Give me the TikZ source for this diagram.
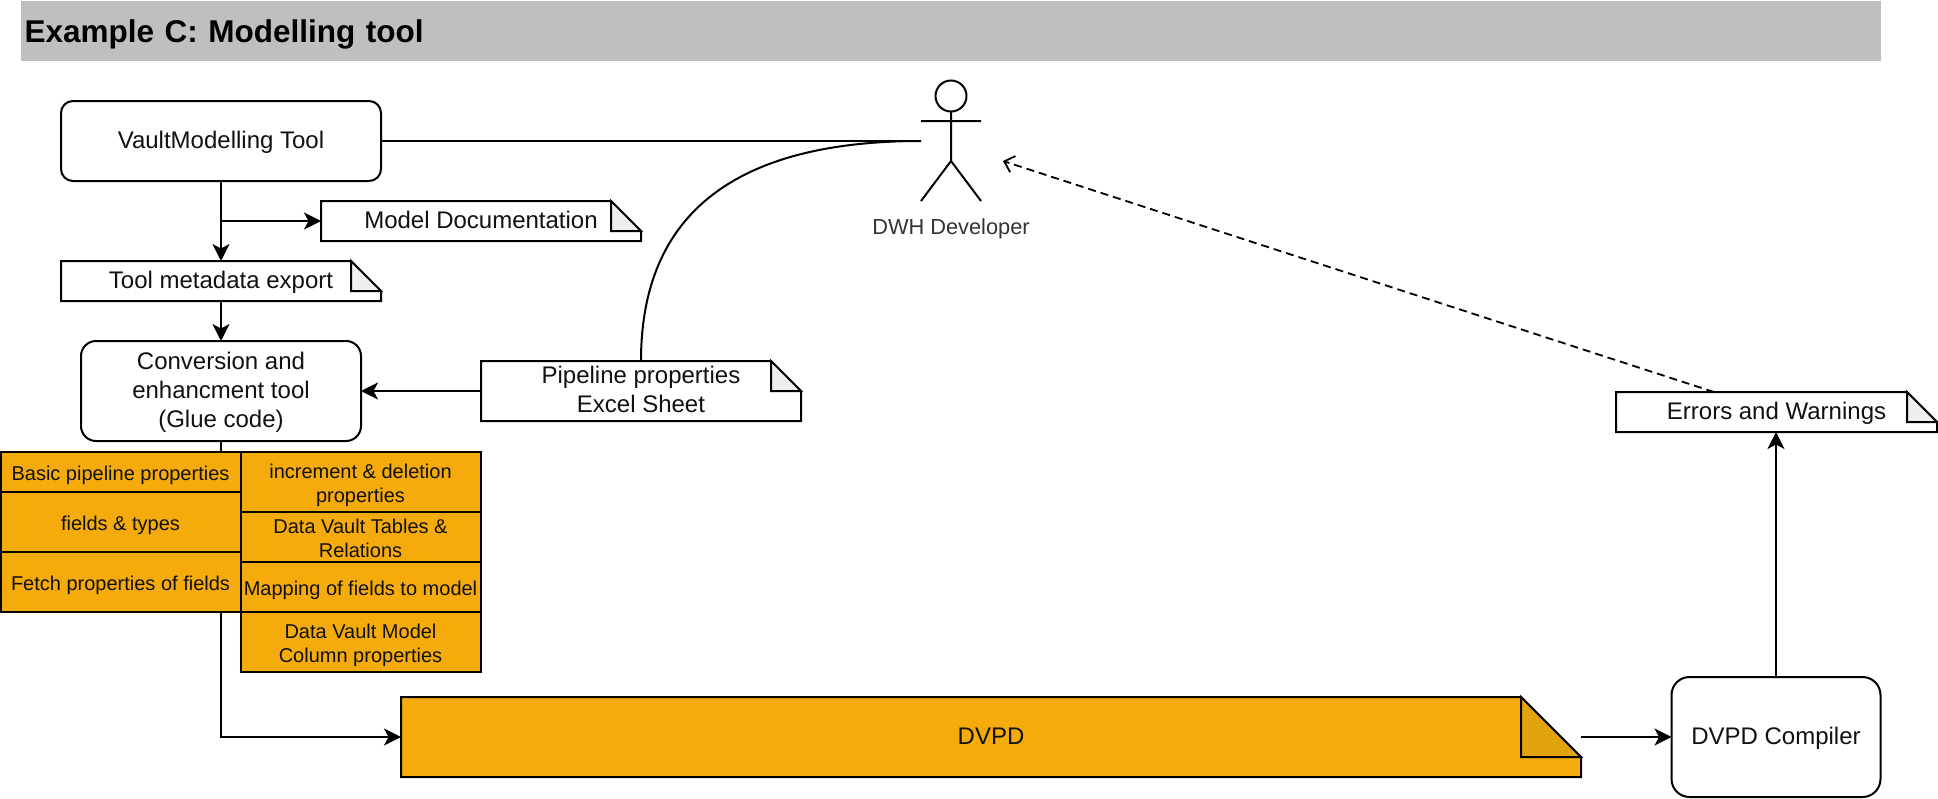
\documentclass[tikz,border=0pt]{standalone}
\usepackage{fontspec}
\setmainfont{Liberation Sans}
\usetikzlibrary{arrows.meta}
\definecolor{orangefill}{HTML}{F5AB0B}
\definecolor{orangefold}{HTML}{E2A40E}
\definecolor{notefold}{HTML}{EFEFEF}
\definecolor{barfill}{HTML}{BFBFBF}
\definecolor{inktext}{HTML}{111111}
\definecolor{actortext}{HTML}{333333}
\tikzset{
  ln/.style={line width=2pt,draw=black},
  conn/.style={ln,-{Stealth[length=17pt,width=17pt,inset=4.5pt]}},
  plain/.style={ln},
  dashconn/.style={line width=1.8pt,draw=black,dash pattern=on 8pt off 5pt,-{Straight Barb[length=9pt,width=17pt,line width=1.8pt]}},
  mainfont/.style={font=\fontsize{24}{29}\selectfont,text=inktext},
  toolbox/.style={ln,fill=white,rounded corners=#1,inner sep=0pt,outer sep=0pt,mainfont},
  notetext/.style={inner sep=0pt,outer sep=0pt,mainfont},
  cell/.style={ln,fill=orangefill,inner sep=0pt,outer sep=0pt,font=\fontsize{20}{24}\selectfont,text=inktext},
}
\newcommand\tx[1]{\raisebox{-1.3pt}[\height][\depth]{\begin{tabular}{@{}c@{}}#1\end{tabular}}}
\newcommand\cx[1]{\raisebox{-3.2pt}[\height][\depth]{\begin{tabular}{@{}c@{}}#1\end{tabular}}}
% name, x1, y1, x2, y2, fold, fill, fold fill, text
\newcommand\notenode[9]{%
  \path[ln,fill=#7] (#2,#3) -- (#4-#6,#3) -- (#4,#3+#6) -- (#4,#5) -- (#2,#5) -- cycle;
  \path[ln,fill=#8,line join=miter] (#4-#6,#3) -- (#4,#3+#6) -- (#4-#6,#3+#6) -- cycle;
  \node[notetext,minimum width={(#4-#2)*1pt},minimum height={(#5-#3)*1pt}] (#1) at ({(#2+#4)/2},{(#3+#5)/2}) {\tx{#9}};
}
\begin{document}
\begin{tikzpicture}[x=1pt,y=-1pt]
\useasboundingbox (0,0) rectangle (1938,798);
\node[fill=barfill,inner ysep=0pt,inner xsep=3.5pt,outer sep=0pt,minimum height=60pt,text width=1853pt,align=left,font=\bfseries\fontsize{31.5}{38}\selectfont,text=black] (title) at (951,31) {\raisebox{-3pt}[\height][\depth]{Example C: Modelling tool}};

\node[toolbox=12pt,draw,minimum width=320pt,minimum height=80pt] (vault) at (221,141) {\tx{VaultModelling Tool}};
\notenode{doc}{321}{201}{641}{241}{30}{white}{notefold}{Model Documentation}
\notenode{meta}{61}{261}{381}{301}{30}{white}{notefold}{Tool metadata export}
\node[toolbox=15pt,draw,minimum width=280pt,minimum height=100pt] (conv) at (221,391) {\tx{Conversion and\\enhancment tool\\(Glue code)}};
\notenode{pipe}{481}{361}{801}{421}{30}{white}{notefold}{Pipeline properties\\Excel Sheet}
\notenode{dvpd}{401}{697}{1581}{777}{60}{orangefill}{orangefold}{DVPD}
\node[toolbox=18pt,draw,minimum width=209pt,minimum height=120pt] (comp) at (1776,737) {\tx{DVPD Compiler}};
\notenode{err}{1616}{392}{1937}{432}{30}{white}{notefold}{Errors and Warnings}

% actor
\node[ln,circle,fill=white,inner sep=0pt,outer sep=0pt,minimum size=31pt] (head) at (951,96) {};
\coordinate (hip) at (951,161);
\coordinate (armL) at (921,121);
\coordinate (armR) at (981,121);
\coordinate (legL) at (921,201);
\coordinate (legR) at (981,201);
\coordinate (actorL) at (921,141);
\coordinate (actorTip) at (1003,161);
\coordinate (errTop) at (1714,392);
\draw[ln] (head.south) -- (hip) (armL) -- (armR) (hip) -- (legL) (hip) -- (legR);
\node[inner sep=0pt,font=\fontsize{21.8}{26}\selectfont,text=actortext] (actorlabel) at (951,228.5) {DWH Developer};

% connectors
\draw[plain] (vault.east) -- (actorL);
\draw[plain] (pipe.north) .. controls (641,214.3) and (734.3,141) .. (actorL);
\draw[conn] (vault.south) -- (meta.north);
\draw[conn] (vault.south |- doc.west) -- (doc.west);
\draw[conn] (meta.south) -- (conv.north);
\draw[conn] (pipe.west) -- (conv.east);
\draw[conn] (conv.south) |- (dvpd.west);
\draw[conn] (dvpd.east) -- (comp.west);
\draw[conn] (comp.north) -- (err.south -| comp.north);
\draw[dashconn] (errTop) -- (actorTip);

% orange cells
\node[cell,minimum width=240pt,minimum height=40pt] (c1) at (120.5,472) {\cx{Basic pipeline properties}};
\node[cell,minimum width=240pt,minimum height=60pt] (c2) at (120.5,522) {\cx{fields \& types}};
\node[cell,minimum width=240pt,minimum height=60pt] (c3) at (120.5,582) {\cx{Fetch properties of fields}};
\node[cell,minimum width=240pt,minimum height=60pt] (d1) at (360.5,482) {\cx{increment \& deletion\\properties}};
\node[cell,minimum width=240pt,minimum height=50pt] (d2) at (360.5,537) {\cx{Data Vault Tables \&\\Relations}};
\node[cell,minimum width=240pt,minimum height=50pt] (d3) at (360.5,587) {\cx{Mapping of fields to model}};
\node[cell,minimum width=240pt,minimum height=60pt] (d4) at (360.5,642) {\cx{Data Vault Model\\Column properties}};
\end{tikzpicture}
\end{document}
